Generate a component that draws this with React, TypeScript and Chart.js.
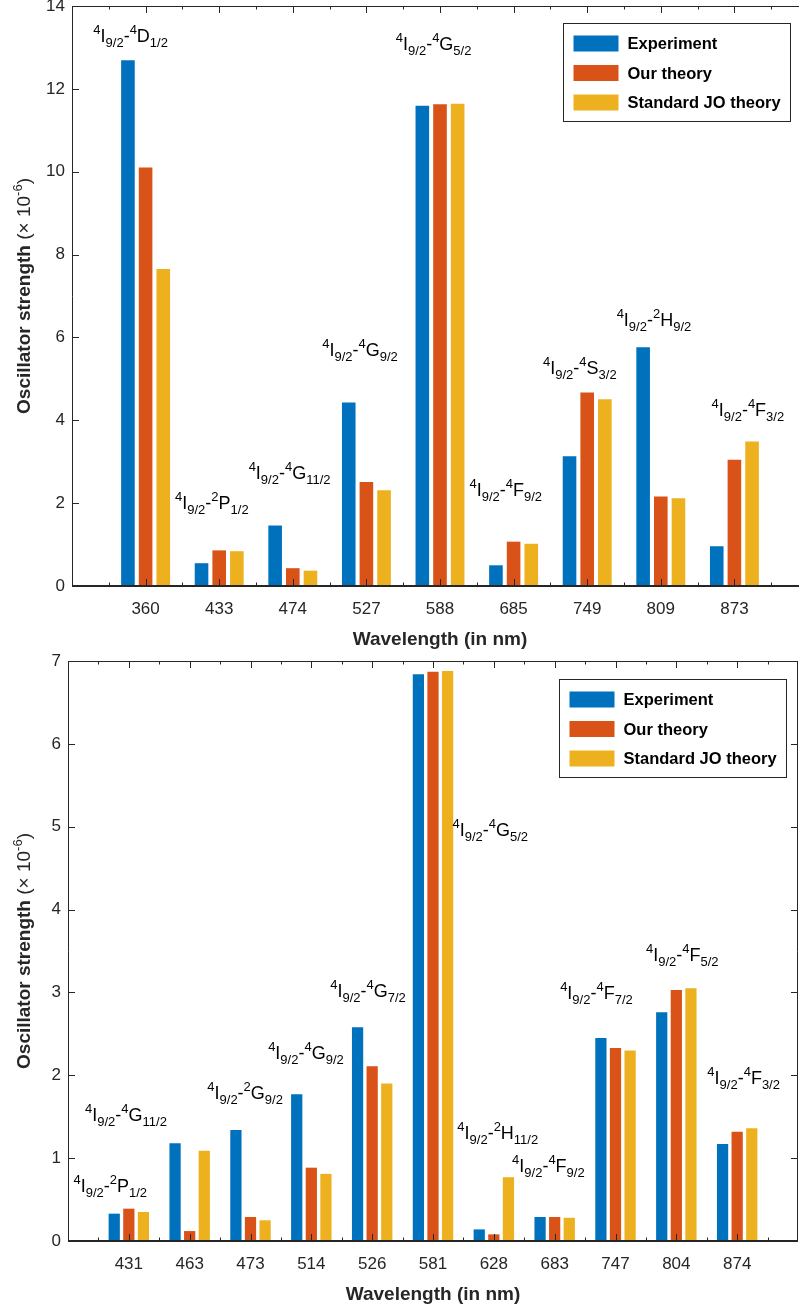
import React, { useEffect, useRef } from 'react';
import { Chart, registerables } from 'chart.js';

Chart.register(...registerables);

const FONT = '"Liberation Sans", Arial, Helvetica, sans-serif';

const seriesNames = ['Experiment', 'Our theory', 'Standard JO theory'];
const seriesColors = ['#0072BD', '#D95319', '#EDB120'];

// ---------- top panel ----------
const topWavelengths = ['360', '433', '474', '527', '588', '685', '749', '809', '873'];
const topExperiment = [12.69, 0.55, 1.46, 4.43, 11.59, 0.5, 3.13, 5.76, 0.96];
const topOurTheory = [10.1, 0.86, 0.43, 2.51, 11.63, 1.07, 4.67, 2.16, 3.05];
const topStandardJO = [7.65, 0.84, 0.37, 2.31, 11.64, 1.02, 4.51, 2.12, 3.49];
const topYTicks = [0, 2, 4, 6, 8, 10, 12, 14];
const topUpperStates = [
  ['4', 'D', '1/2'],
  ['2', 'P', '1/2'],
  ['4', 'G', '11/2'],
  ['4', 'G', '9/2'],
  ['4', 'G', '5/2'],
  ['4', 'F', '9/2'],
  ['4', 'S', '3/2'],
  ['2', 'H', '9/2'],
  ['4', 'F', '3/2'],
];
const topLabelX = [0.29, 1.4, 2.4, 3.4, 4.4, 5.4, 6.4, 7.4, 8.69];
const topLabelY = [13.23, 1.95, 2.68, 5.65, 13.03, 2.27, 5.21, 6.37, 4.2];

// ---------- bottom panel ----------
const bottomWavelengths = ['431', '463', '473', '514', '526', '581', '628', '683', '747', '804', '874'];
const bottomExperiment = [0.33, 1.18, 1.34, 1.77, 2.58, 6.84, 0.14, 0.29, 2.45, 2.76, 1.17];
const bottomOurTheory = [0.39, 0.12, 0.29, 0.885, 2.11, 6.87, 0.08, 0.29, 2.33, 3.03, 1.32];
const bottomStandardJO = [0.35, 1.09, 0.25, 0.81, 1.9, 6.88, 0.77, 0.28, 2.3, 3.05, 1.36];
const bottomYTicks = [0, 1, 2, 3, 4, 5, 6, 7];
const bottomUpperStates = [
  ['2', 'P', '1/2'],
  ['4', 'G', '11/2'],
  ['2', 'G', '9/2'],
  ['4', 'G', '9/2'],
  ['4', 'G', '7/2'],
  ['4', 'G', '5/2'],
  ['2', 'H', '11/2'],
  ['4', 'F', '9/2'],
  ['4', 'F', '7/2'],
  ['4', 'F', '5/2'],
  ['4', 'F', '3/2'],
];
const bottomLabelX = [0.09, 0.28, 2.29, 3.29, 4.31, 6.32, 6.4, 7.3, 8.09, 9.5, 10.51];
const bottomLabelY = [0.64, 1.5, 1.76, 2.24, 2.99, 4.94, 1.28, 0.88, 2.97, 3.43, 1.94];

type Seg = { t: string; k: 'n' | 'sup' | 'sub'; bold?: boolean };

function transitionSegs(st: string[]): Seg[] {
  return [
    { t: '4', k: 'sup' },
    { t: 'I', k: 'n' },
    { t: '9/2', k: 'sub' },
    { t: '-', k: 'n' },
    { t: st[0], k: 'sup' },
    { t: st[1], k: 'n' },
    { t: st[2], k: 'sub' },
  ];
}

function segFont(s: Seg, main: number, small: number) {
  const size = s.k === 'n' ? main : small;
  return `${s.bold ? 'bold ' : ''}${size}px ${FONT}`;
}

function richWidth(ctx: CanvasRenderingContext2D, segs: Seg[], main: number, small: number) {
  let w = 0;
  for (const s of segs) {
    ctx.font = segFont(s, main, small);
    w += ctx.measureText(s.t).width;
  }
  return w;
}

function drawRich(
  ctx: CanvasRenderingContext2D,
  segs: Seg[],
  x: number,
  baseline: number,
  main: number,
  small: number
) {
  let cx = x;
  for (const s of segs) {
    ctx.font = segFont(s, main, small);
    const dy = s.k === 'sup' ? -8 : s.k === 'sub' ? 5 : 0;
    ctx.fillText(s.t, cx, baseline + dy);
    cx += ctx.measureText(s.t).width;
  }
}

interface PanelProps {
  width: number;
  height: number;
  labels: string[];
  series: number[][];
  yTicks: number[];
  xMax: number;
  axisLeft: number;
  padTop: number;
  plotBottom: number;
  legendGapRight: number;
  legendGapTop: number;
  states: string[][];
  labelX: number[];
  labelY: number[];
}

function Panel(p: PanelProps) {
  const ref = useRef<HTMLCanvasElement>(null);

  useEffect(() => {
    const canvas = ref.current;
    if (!canvas) return;

    const decor = {
      id: 'decor',
      afterDraw(chart: any) {
        const ctx: CanvasRenderingContext2D = chart.ctx;
        const { left, right, top, bottom } = chart.chartArea;
        const xs = chart.scales.x;
        const ys = chart.scales.y;
        ctx.save();
        ctx.strokeStyle = '#262626';
        ctx.lineWidth = 1;
        // box
        ctx.beginPath();
        ctx.moveTo(left + 0.5, bottom);
        ctx.lineTo(left + 0.5, top + 0.5);
        ctx.lineTo(right - 0.5, top + 0.5);
        ctx.lineTo(right - 0.5, bottom);
        ctx.stroke();
        // y ticks (inward)
        ctx.beginPath();
        for (const v of p.yTicks) {
          const y = Math.round(ys.getPixelForValue(v)) + 0.5;
          ctx.moveTo(left, y);
          ctx.lineTo(left + 7, y);
          ctx.moveTo(right, y);
          ctx.lineTo(right - 7, y);
        }
        // x ticks
        for (let i = 1; i <= p.labels.length; i++) {
          const x = Math.round(xs.getPixelForValue(i)) + 0.5;
          ctx.moveTo(x, bottom);
          ctx.lineTo(x, bottom - 7);
          ctx.moveTo(x, top);
          ctx.lineTo(x, top + 7);
        }
        for (let i = 0; i <= p.labels.length; i++) {
          const x = Math.round(xs.getPixelForValue(i + 0.5)) + 0.5;
          ctx.moveTo(x, bottom);
          ctx.lineTo(x, bottom - 3.5);
          ctx.moveTo(x, top);
          ctx.lineTo(x, top + 3.5);
        }
        ctx.stroke();
        // baseline / bottom axis
        ctx.lineWidth = 2;
        ctx.beginPath();
        ctx.moveTo(left, bottom);
        ctx.lineTo(right, bottom);
        ctx.stroke();

        // annotations
        ctx.fillStyle = '#000';
        ctx.textAlign = 'left';
        ctx.textBaseline = 'alphabetic';
        for (let i = 0; i < p.states.length; i++) {
          const x = xs.getPixelForValue(p.labelX[i]);
          const y = ys.getPixelForValue(p.labelY[i]) + 4;
          drawRich(ctx, transitionSegs(p.states[i]), x, y, 18, 13);
        }

        // x title
        ctx.fillStyle = '#262626';
        ctx.font = `bold 19px ${FONT}`;
        ctx.textAlign = 'center';
        ctx.fillText('Wavelength (in nm)', (left + right) / 2, bottom + 59);

        // y title (rotated)
        const ySegs: Seg[] = [
          { t: 'Oscillator strength', k: 'n', bold: true },
          { t: ' (× 10', k: 'n' },
          { t: '-6', k: 'sup' },
          { t: ')', k: 'n' },
        ];
        ctx.textAlign = 'left';
        const w = richWidth(ctx, ySegs, 19, 13);
        ctx.save();
        ctx.translate(30, (top + bottom) / 2);
        ctx.rotate(-Math.PI / 2);
        drawRich(ctx, ySegs, -w / 2, 0, 19, 13);
        ctx.restore();

        // legend
        const ds = chart.data.datasets;
        ctx.font = `bold 16.5px ${FONT}`;
        let maxW = 0;
        for (const d of ds) maxW = Math.max(maxW, ctx.measureText(d.label).width);
        const boxW = Math.round(64 + maxW + 10);
        const boxH = 98;
        const bx = Math.round(right - p.legendGapRight - boxW) + 0.5;
        const by = Math.round(top + p.legendGapTop) + 0.5;
        ctx.fillStyle = '#fff';
        ctx.fillRect(bx, by, boxW, boxH);
        ctx.strokeStyle = '#262626';
        ctx.lineWidth = 1;
        ctx.strokeRect(bx, by, boxW, boxH);
        const rowOff = [20, 49.5, 79];
        ds.forEach((d: any, i: number) => {
          const cy = by + rowOff[i];
          ctx.fillStyle = d.backgroundColor;
          ctx.fillRect(bx + 10, cy - 8, 45, 16);
          ctx.fillStyle = '#000';
          ctx.font = `bold 16.5px ${FONT}`;
          ctx.textBaseline = 'middle';
          ctx.fillText(d.label, bx + 64, cy + 1);
        });
        ctx.restore();
      },
    };

    const chart = new Chart(canvas, {
      type: 'bar',
      data: {
        datasets: p.series.map((vals, si) => ({
          label: seriesNames[si],
          data: vals.map((v, i) => ({ x: i + 1, y: v })),
          backgroundColor: seriesColors[si],
          borderWidth: 0,
          barPercentage: 0.77,
          categoryPercentage: 0.72,
        })),
      },
      options: {
        responsive: false,
        animation: false,
        devicePixelRatio: 1,
        events: [],
        layout: { padding: { top: p.padTop, right: 1, left: 0, bottom: 0 } },
        plugins: { legend: { display: false }, tooltip: { enabled: false } },
        scales: {
          x: {
            type: 'linear',
            min: 0,
            max: p.xMax,
            offset: false,
            grid: { display: false, drawTicks: false },
            border: { display: false },
            afterBuildTicks: (scale: any) => {
              scale.ticks = p.labels.map((_, i) => ({ value: i + 1 }));
            },
            afterFit: (scale: any) => {
              scale.height = p.height - p.plotBottom;
              scale.paddingLeft = 0;
              scale.paddingRight = 0;
            },
            ticks: {
              autoSkip: false,
              maxRotation: 0,
              padding: 13,
              color: '#262626',
              font: { family: FONT, size: 17 },
              callback: (v: any) => p.labels[Number(v) - 1] ?? '',
            },
          },
          y: {
            type: 'linear',
            min: p.yTicks[0],
            max: p.yTicks[p.yTicks.length - 1],
            grid: { display: false, drawTicks: false },
            border: { display: false },
            afterBuildTicks: (scale: any) => {
              scale.ticks = p.yTicks.map((v) => ({ value: v }));
            },
            afterFit: (scale: any) => {
              scale.width = p.axisLeft;
              scale.paddingTop = 0;
              scale.paddingBottom = 0;
            },
            ticks: {
              padding: 7,
              color: '#262626',
              font: { family: FONT, size: 17 },
              callback: (v: any) => String(v),
            },
          },
        },
      },
      plugins: [decor],
    } as any);

    return () => chart.destroy();
  }, []);

  return (
    <canvas
      ref={ref}
      width={p.width}
      height={p.height}
      style={{ display: 'block', width: p.width, height: p.height }}
    />
  );
}

export default function App() {
  return (
    <div
      style={{
        position: 'absolute',
        left: 0,
        top: 0,
        width: 799,
        height: 1308,
        overflow: 'hidden',
        background: '#fff',
      }}
    >
      <div style={{ position: 'absolute', left: 0, top: 0, width: 809, height: 650 }}>
        <Panel
          width={809}
          height={650}
          labels={topWavelengths}
          series={[topExperiment, topOurTheory, topStandardJO]}
          yTicks={topYTicks}
          xMax={10}
          axisLeft={72}
          padTop={6}
          plotBottom={586}
          legendGapRight={18}
          legendGapTop={17}
          states={topUpperStates}
          labelX={topLabelX}
          labelY={topLabelY}
        />
      </div>
      <div style={{ position: 'absolute', left: 0, top: 650, width: 799, height: 658 }}>
        <Panel
          width={799}
          height={658}
          labels={bottomWavelengths}
          series={[bottomExperiment, bottomOurTheory, bottomStandardJO]}
          yTicks={bottomYTicks}
          xMax={12}
          axisLeft={68}
          padTop={11}
          plotBottom={591}
          legendGapRight={12}
          legendGapTop={18}
          states={bottomUpperStates}
          labelX={bottomLabelX}
          labelY={bottomLabelY}
        />
      </div>
    </div>
  );
}
